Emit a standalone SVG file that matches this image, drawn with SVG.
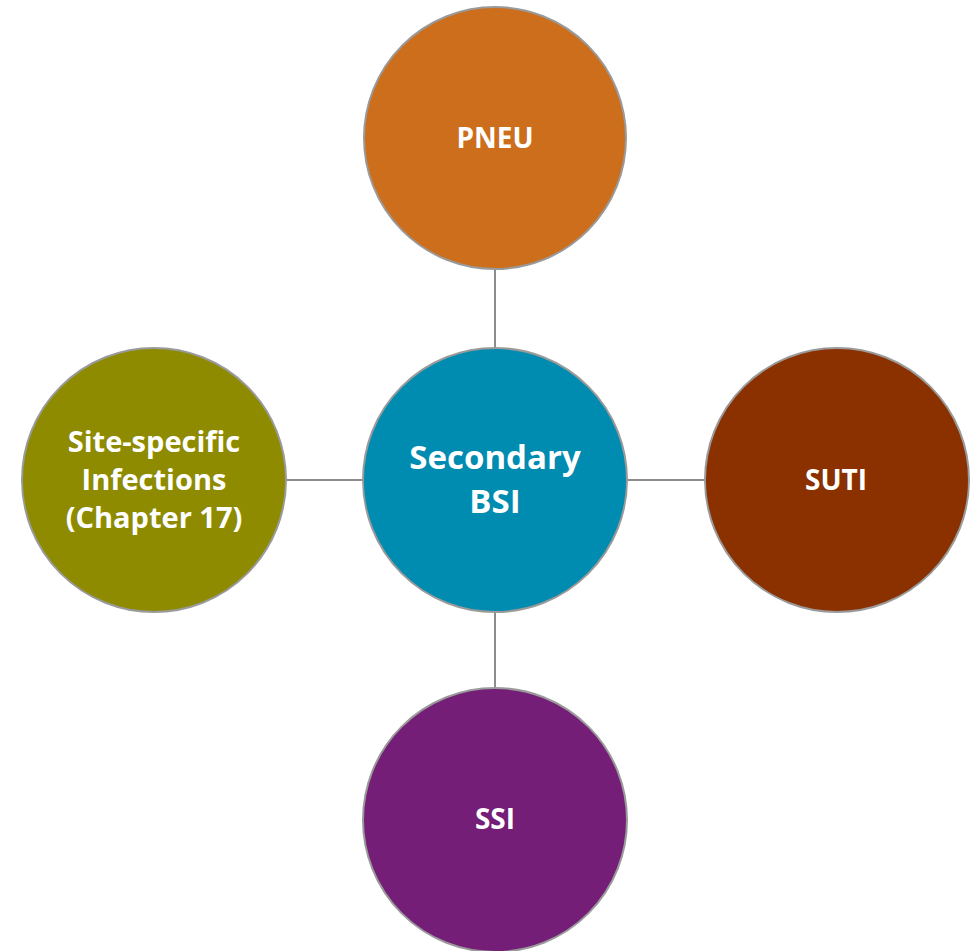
<svg xmlns="http://www.w3.org/2000/svg" width="977" height="951" viewBox="0 0 977 951">
<style>
.node{stroke:#9a9a9a;stroke-width:2}
.lbl{font-family:"Open Sans","Noto Sans","Liberation Sans",sans-serif;font-weight:bold;fill:#ffffff;text-anchor:middle}
.conn{stroke:#8c8c8c;stroke-width:2;fill:none}
</style>
<rect width="977" height="951" fill="#ffffff"/>
<g id="connectors">
<line class="conn" x1="495" y1="268" x2="495" y2="348"/>
<line class="conn" x1="495" y1="612" x2="495" y2="689"/>
<line class="conn" x1="285" y1="480" x2="364" y2="480"/>
<line class="conn" x1="626" y1="480" x2="706" y2="480"/>
</g>
<g id="pneu">
<circle class="node" cx="495" cy="138" r="131" fill="#CC6E1C"/>
<text class="lbl" x="495" y="148" font-size="28">PNEU</text>
</g>
<g id="secondary-bsi">
<circle class="node" cx="495" cy="480" r="132" fill="#008BB0"/>
<text class="lbl" x="495" y="469" font-size="33">Secondary</text>
<text class="lbl" x="495" y="513" font-size="33">BSI</text>
</g>
<g id="site-specific">
<circle class="node" cx="154" cy="480" r="132" fill="#8E8B00"/>
<text class="lbl" x="154" y="452" font-size="29">Site-specific</text>
<text class="lbl" x="154" y="490" font-size="29">Infections</text>
<text class="lbl" x="154" y="528" font-size="29">(Chapter 17)</text>
</g>
<g id="suti">
<circle class="node" cx="837" cy="480" r="132" fill="#8B3100"/>
<text class="lbl" x="836" y="490" font-size="28">SUTI</text>
</g>
<g id="ssi">
<circle class="node" cx="495" cy="820" r="132" fill="#741E78"/>
<text class="lbl" x="495" y="829" font-size="28">SSI</text>
</g>
</svg>
